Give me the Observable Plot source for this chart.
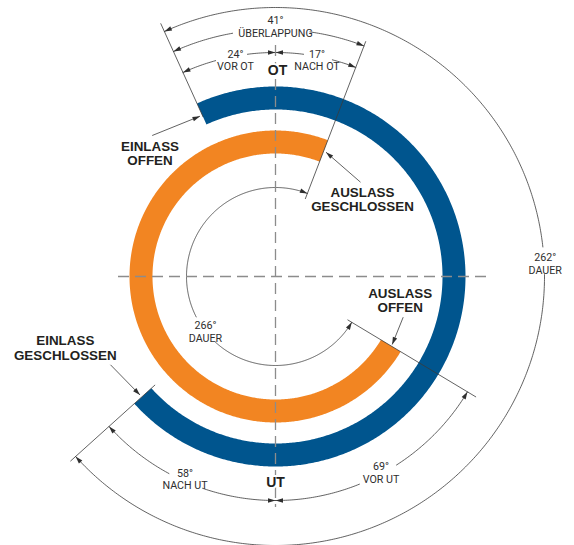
<!DOCTYPE html>
<html>
<head>
<meta charset="utf-8">
<script src="https://cdn.jsdelivr.net/npm/d3@7"></script>
<script src="https://cdn.jsdelivr.net/npm/@observablehq/plot@0.6"></script>
<style>
  html, body { margin: 0; padding: 0; background: #fff; }
</style>
</head>
<body>
<div id="chart"></div>
<script>
// ---------------- DATA ----------------
// Angles in degrees, clockwise from OT (top dead centre), as drawn in the diagram.
const valves      = ["Einlass", "Auslass"];
const valveOpen   = [-24.4, 121];   // drawn angle where the valve opens
const valveClose  = [228, 381];     // drawn angle where the valve closes (381 = 21 after a full turn)
const valveColor  = ["#00558e", "#f28522"];

const eventLabels = ["EINLASS\nOFFEN", "AUSLASS\nGESCHLOSSEN", "AUSLASS\nOFFEN", "EINLASS\nGESCHLOSSEN"];
const eventAngle  = [-24.4, 21, 121, 228];

const dimLabels = ["41°\nÜBERLAPPUNG", "24°\nVOR OT", "17°\nNACH OT", "69°\nVOR UT", "58°\nNACH UT", "262°\nDAUER", "266°\nDAUER"];
const dimFrom   = [-24.4, -24.4, 0, 121, 180, -24.4, 121];
const dimTo     = [21, 0, 21, 180, 228, 228, 381];

const deadCentres = ["OT", "UT"];

// ---------------- LAYOUT (positions / sizes / styles) ----------------
const ringRadius = [178.5, 134.5];
const ringWidth = 23;
const dimRadius = [247, 224, 224, 224, 224, 269, 89];
const dimGap    = [[-10, 8], [-15.5, -7.2], [7.2, 14.7], [147.3, 158], [199, 208.4], [83.7, 89.6], [222.5, 243]];
const dimTextPos = [[0, 250], [-40, 216.2], [41.5, 216.2], [105.5, -196], [-90.5, -202.3], [269.7, 13], [-70, -55.1]];
const extRange  = [[175, 278], [83, 252], [84, 234], [162, 276]];
const eventTextPos = [[-125.5, 123], [87, 77], [124.7, -23.6], [-210.2, -71.5]];
const leaderFrom = [[-123.3, 141], [85, 94.3], [127.7, -40.7], [-165, -88.3]];
const leaderTo   = [[-75.5, 160.3], [50.5, 124.3], [116.7, -68], [-135.5, -118.5]];
const deadPos = [[2, 206], [0, -205.7]];

// ---------------- HELPERS ----------------
const rad = d => d * Math.PI / 180;
const pol = (a, r) => [r * Math.sin(rad(a)), r * Math.cos(rad(a))];
function arcPts(a0, a1, r, key, step = 0.5) {
  const n = Math.max(2, Math.ceil(Math.abs(a1 - a0) / step) + 1);
  return d3.range(n).map(i => {
    const [x, y] = pol(a0 + (a1 - a0) * i / (n - 1), r);
    return {x, y, key};
  });
}

// rings
const ringPts = valves.flatMap((v, i) =>
  arcPts(valveOpen[i], valveClose[i], ringRadius[i], v).map(p => ({...p, color: valveColor[i]})));

// dimension arcs (split at label gap)
const dimPts = dimLabels.flatMap((lab, i) => [
  ...arcPts(dimFrom[i], dimGap[i][0], dimRadius[i], i + "a"),
  ...arcPts(dimGap[i][1], dimTo[i], dimRadius[i], i + "b")
]);

// arrowheads
const arrows = [];
dimLabels.forEach((lab, i) => {
  const [x0, y0] = pol(dimFrom[i], dimRadius[i]);
  const [x1, y1] = pol(dimTo[i], dimRadius[i]);
  arrows.push({x: x0, y: y0, rot: dimFrom[i] - 90});
  arrows.push({x: x1, y: y1, rot: dimTo[i] + 90});
});
eventLabels.forEach((lab, i) => {
  const [fx, fy] = leaderFrom[i], [tx, ty] = leaderTo[i];
  arrows.push({x: tx, y: ty, rot: Math.atan2(tx - fx, ty - fy) * 180 / Math.PI});
});

// extension lines
const extLines = eventAngle.map((a, i) => {
  const [x1, y1] = pol(a, extRange[i][0]);
  const [x2, y2] = pol(a, extRange[i][1]);
  return {x1, y1, x2, y2};
});

const leaders = eventLabels.map((lab, i) => ({
  x1: leaderFrom[i][0], y1: leaderFrom[i][1], x2: leaderTo[i][0], y2: leaderTo[i][1]
}));

const arrowHead = {
  draw(ctx) {
    ctx.moveTo(0, 0);
    ctx.lineTo(2.3, 7.5);
    ctx.lineTo(-2.3, 7.5);
    ctx.closePath();
  }
};

const ink = "#2e2e2e";
const lineInk = "#3a3a3a";
const smallFont = "Roboto, 'Liberation Sans', sans-serif";
const boldFont = "'Liberation Sans', Arial, sans-serif";

const chart = Plot.plot({
  width: 574,
  height: 545,
  margin: 0,
  x: {domain: [-275, 299], axis: null},
  y: {domain: [-269, 276], axis: null},
  style: {background: "#fff"},
  marks: [
    // dimension arcs
    Plot.line(dimPts, {x: "x", y: "y", z: "key", stroke: lineInk, strokeWidth: 0.8, curve: "linear"}),
    // valve rings
    Plot.line(ringPts, {x: "x", y: "y", z: "key", stroke: "color", strokeWidth: ringWidth, strokeLinecap: "butt", curve: "linear"}),
    // dashed axes
    Plot.ruleY([0], {x1: -157, x2: 211, stroke: "#8c8c8c", strokeWidth: 1.3, strokeDasharray: "11,6"}),
    Plot.ruleX([0], {y1: 231, y2: -231, stroke: "#8c8c8c", strokeWidth: 1.3, strokeDasharray: "11,6"}),
    // extension lines
    Plot.link(extLines, {x1: "x1", y1: "y1", x2: "x2", y2: "y2", stroke: lineInk, strokeWidth: 0.8}),
    // leader lines
    Plot.link(leaders, {x1: "x1", y1: "y1", x2: "x2", y2: "y2", stroke: lineInk, strokeWidth: 0.8}),
    // arrowheads
    Plot.dot(arrows, {x: "x", y: "y", rotate: "rot", symbol: arrowHead, fill: ink, stroke: "none"}),
    // dimension labels
    Plot.text(dimLabels, {
      x: (d, i) => dimTextPos[i][0], y: (d, i) => dimTextPos[i][1], text: d => d,
      fontFamily: smallFont, fontSize: 10.7, fill: ink, lineHeight: 1.15, lineAnchor: "middle"
    }),
    // event labels
    Plot.text(eventLabels, {
      x: (d, i) => eventTextPos[i][0], y: (d, i) => eventTextPos[i][1], text: d => d,
      fontFamily: boldFont, fontSize: 13.4, fontWeight: "bold", fill: "#231f20", lineHeight: 1.07, lineAnchor: "middle"
    }),
    // OT / UT
    Plot.text(deadCentres, {
      x: (d, i) => deadPos[i][0], y: (d, i) => deadPos[i][1], text: d => d,
      fontFamily: boldFont, fontSize: 14, fontWeight: "bold", fill: "#231f20", stroke: "#fff", strokeWidth: 4, lineAnchor: "middle"
    })
  ]
});
document.getElementById("chart").appendChild(chart);
</script>
</body>
</html>
